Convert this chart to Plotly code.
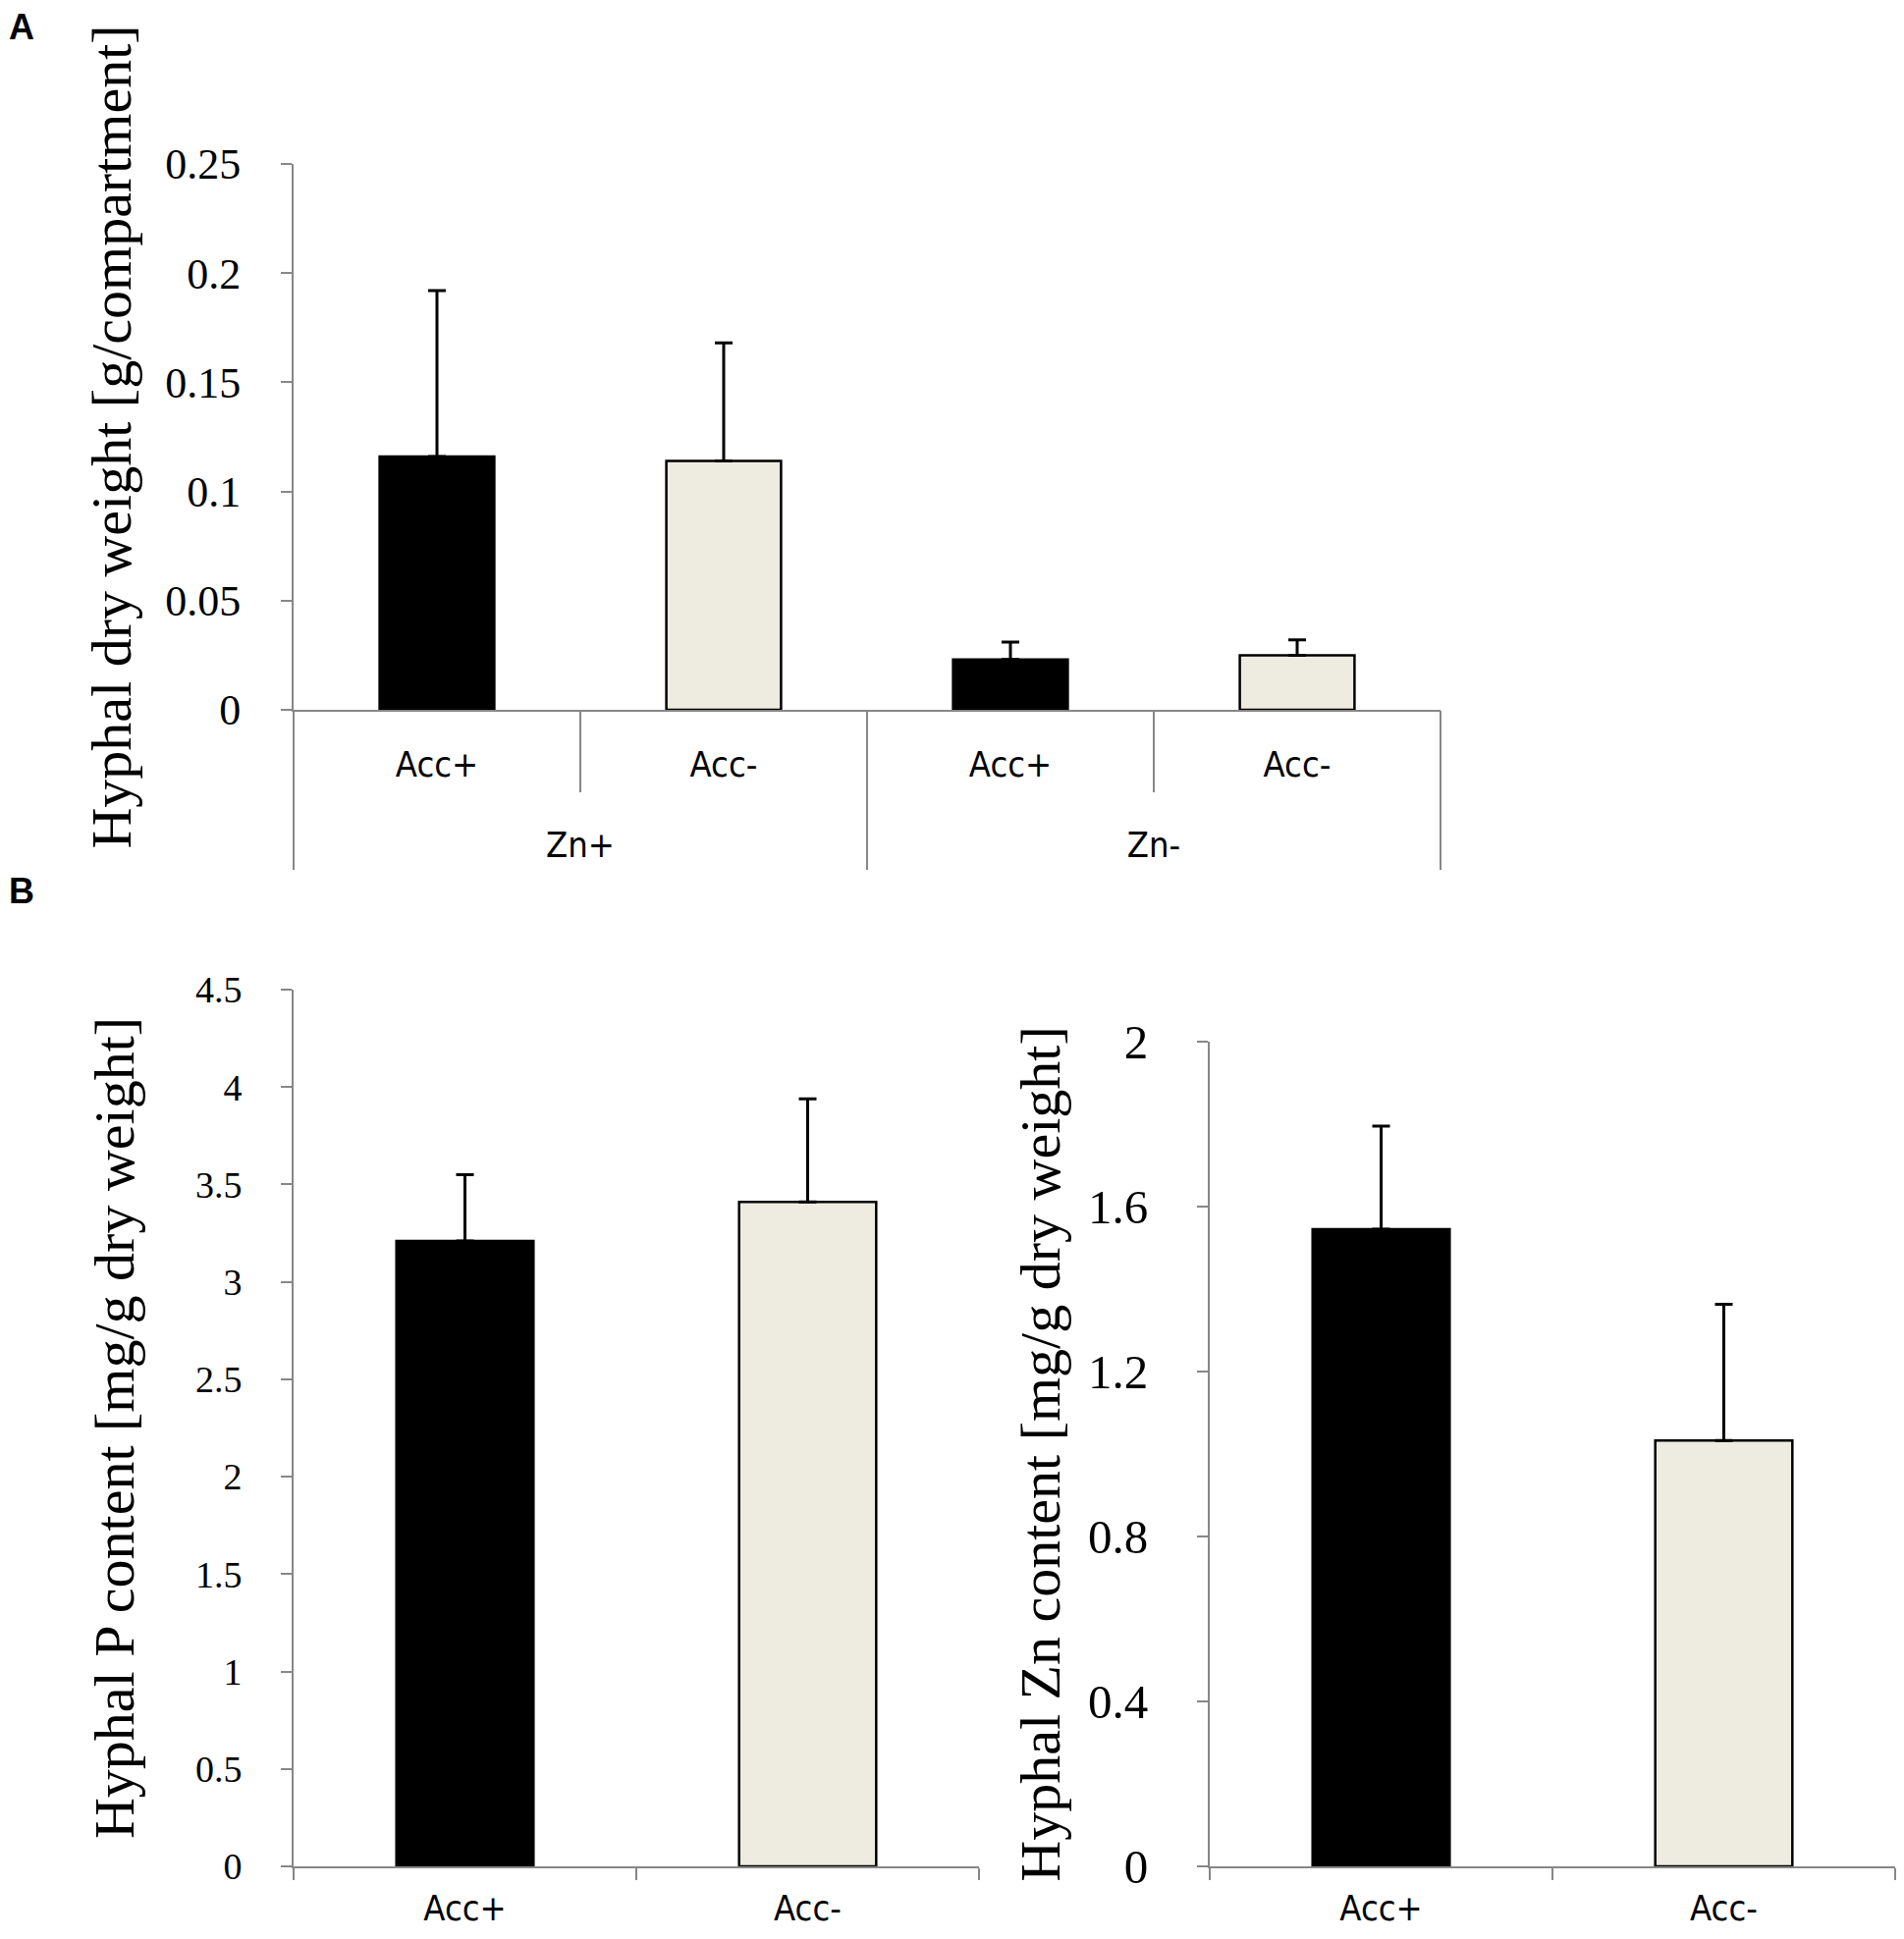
import plotly.graph_objects as go

# Panel A - hyphal dry weight
zn_groups = ["Zn+", "Zn+", "Zn-", "Zn-"]
acc_labels = ["Acc+", "Acc-", "Acc+", "Acc-"]
dry_weight = [0.116, 0.114, 0.023, 0.025]
dry_weight_err = [0.076, 0.054, 0.008, 0.007]

# Panel B - nutrient content
acc_b = ["Acc+", "Acc-"]
p_content = [3.21, 3.41]
p_err = [0.34, 0.53]
zn_content = [1.545, 1.033]
zn_err = [0.25, 0.33]

colors = {"Acc+": "#000000", "Acc-": "#EEECE1"}

# page is shown with an 8px body margin, so the figure is a bit smaller
W, H = 1923, 1959
OFF = 8
serif = "Liberation Serif, Times New Roman, serif"
narrow = "DejaVu Sans Condensed, Liberation Sans Narrow, sans-serif"
gray = "#878787"


def px_x(v):
    return (v - OFF) / W


def px_y(v):
    return 1 - (v - OFF) / H


# category positions for panel A and group centres / boundaries
pos = list(range(len(acc_labels)))
groups = list(dict.fromkeys(zn_groups))
group_pos = [sum(p for p, g in zip(pos, zn_groups) if g == grp) / zn_groups.count(grp) for grp in groups]
inner_bounds = [p - 0.5 for p in pos] + [pos[-1] + 0.5]
group_bounds = [-0.5] + [p + 0.5 for p, g, n in zip(pos, zn_groups, zn_groups[1:] + [None]) if g != n]


def err(vals):
    return dict(type="data", array=vals, arrayminus=[0] * len(vals), symmetric=False,
                color="black", thickness=3, width=9)


fig = go.Figure()

# panel A: one trace per accessibility treatment, Acc- on the overlaid group axis
for acc, xa in (("Acc+", "x"), ("Acc-", "x4")):
    idx = [i for i, a in enumerate(acc_labels) if a == acc]
    fig.add_trace(go.Bar(x=[pos[i] for i in idx], y=[dry_weight[i] for i in idx],
                         error_y=err([dry_weight_err[i] for i in idx]), width=0.4,
                         marker=dict(color=colors[acc], line=dict(color="black", width=2.5)),
                         xaxis=xa, yaxis="y"))

fig.add_trace(go.Bar(x=acc_b, y=p_content, error_y=err(p_err),
                     marker=dict(color=[colors[a] for a in acc_b], line=dict(color="black", width=2.5)),
                     xaxis="x2", yaxis="y2"))
fig.add_trace(go.Bar(x=acc_b, y=zn_content, error_y=err(zn_err),
                     marker=dict(color=[colors[a] for a in acc_b], line=dict(color="black", width=2.5)),
                     xaxis="x3", yaxis="y3"))

yax = dict(showline=True, linecolor=gray, linewidth=2, ticks="outside", ticklen=11,
           tickcolor=gray, tickwidth=2, showgrid=False, zeroline=False, automargin=False)
xax = dict(showline=True, linecolor=gray, linewidth=2, showgrid=False, zeroline=False,
           automargin=False, tickcolor=gray, tickwidth=2,
           tickfont=dict(family=narrow, size=36, color="black"))
ytitle_font = dict(family=serif, size=58, color="black")

fig.update_layout(
    width=W, height=H, autosize=False,
    margin=dict(l=0, r=0, t=0, b=0),
    paper_bgcolor="white", plot_bgcolor="white",
    showlegend=False, bargap=0.6,
    xaxis=dict(xax, domain=[px_x(299), px_x(1467)], anchor="y", range=[-0.5, 3.5],
               tickmode="array", tickvals=pos, ticktext=acc_labels, ticks="",
               ticklabelstandoff=23,
               minor=dict(tickmode="array", tickvals=inner_bounds, ticks="outside",
                          ticklen=82, tickcolor=gray, tickwidth=2)),
    xaxis4=dict(xax, domain=[px_x(299), px_x(1467)], anchor="y", overlaying="x", side="bottom",
                range=[-0.5, 3.5], showline=False,
                tickmode="array", tickvals=group_pos, ticktext=groups, ticks="",
                ticklabelstandoff=113,
                minor=dict(tickmode="array", tickvals=group_bounds, ticks="outside",
                           ticklen=162, tickcolor=gray, tickwidth=2)),
    yaxis=dict(yax, domain=[px_y(723), px_y(167)], range=[0, 0.25], dtick=0.05, anchor="x",
               tickfont=dict(family=serif, size=44, color="black"), ticklabelstandoff=32,
               title=dict(text="Hyphal dry weight [g/compartment]", font=ytitle_font, standoff=16)),
    xaxis2=dict(xax, domain=[px_x(299), px_x(997)], anchor="y2", ticks="outside",
                tickson="boundaries", ticklen=12, ticklabelstandoff=10),
    yaxis2=dict(yax, domain=[px_y(1901), px_y(1008)], range=[0, 4.5], dtick=0.5, anchor="x2",
                tickfont=dict(family=serif, size=38, color="black"), ticklabelstandoff=32,
                title=dict(text="Hyphal P content [mg/g dry weight]", font=ytitle_font, standoff=44)),
    xaxis3=dict(xax, domain=[px_x(1232), px_x(1930)], anchor="y3", ticks="outside",
                tickson="boundaries", ticklen=12, ticklabelstandoff=10),
    yaxis3=dict(yax, domain=[px_y(1901), px_y(1061)], range=[0, 2], dtick=0.4, anchor="x3",
                tickfont=dict(family=serif, size=49, color="black"), ticklabelstandoff=40,
                title=dict(text="Hyphal Zn content [mg/g dry weight]", font=ytitle_font, standoff=10)),
    annotations=[
        dict(text="<b>A</b>", x=px_x(22), y=px_y(27), xref="paper", yref="paper",
             xanchor="center", yanchor="middle", showarrow=False,
             font=dict(family="Liberation Sans, Arial, sans-serif", size=36, color="black")),
        dict(text="<b>B</b>", x=px_x(22), y=px_y(907), xref="paper", yref="paper",
             xanchor="center", yanchor="middle", showarrow=False,
             font=dict(family="Liberation Sans, Arial, sans-serif", size=36, color="black")),
    ],
)

fig.write_html("out.html")
